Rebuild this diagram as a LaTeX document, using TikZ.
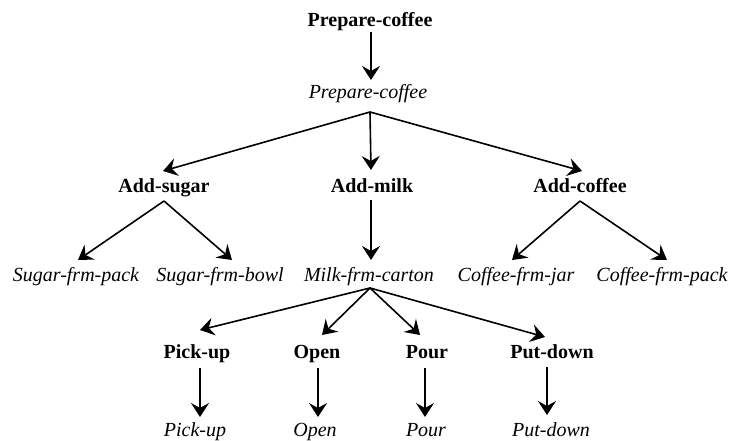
\documentclass[tikz,border=0pt]{standalone}
\usepackage{fontspec}
\setmainfont{Liberation Serif}
\usetikzlibrary{arrows.meta,calc}
\begin{document}
\begin{tikzpicture}[x=1pt,y=-1pt,
  lbl/.style={inner sep=0pt,anchor=base,font=\fontsize{20}{24}\selectfont},
  goal/.style={lbl,font=\fontsize{20}{24}\selectfont\bfseries},
  meth/.style={lbl,font=\fontsize{20}{24}\selectfont\itshape},
  arr/.style={line width=1.6pt,-{Stealth[length=14pt,width=18pt,inset=5pt]}}]
\useasboundingbox (0,0) rectangle (733,441);

% goals and methods
\node[goal] (pc)  at (370,27)  {Prepare-coffee};
\node[meth] (pci) at (368,99)  {Prepare-coffee};
\node[goal] (sugar)  at (164,192) {Add-sugar};
\node[goal] (milk)   at (372,192) {Add-milk};
\node[goal] (coffee) at (580,192) {Add-coffee};
\node[meth] (spack)   at (76,281)  {Sugar-frm-pack};
\node[meth] (sbowl)   at (220,281) {Sugar-frm-bowl};
\node[meth] (mcarton) at (369,281) {Milk-frm-carton};
\node[meth] (cjar)    at (516,281) {Coffee-frm-jar};
\node[meth] (cpack)   at (662,281) {Coffee-frm-pack};
\node[goal] (pick) at (197,358) {Pick-up};
\node[goal] (open) at (317,358) {Open};
\node[goal] (pour) at (427,358) {Pour};
\node[goal] (put)  at (552,358) {Put-down};
\node[meth] (picki) at (195,436) {Pick-up};
\node[meth] (openi) at (315,436) {Open};
\node[meth] (pouri) at (426,436) {Pour};
\node[meth] (puti)  at (551,436) {Put-down};

% branching points
\coordinate (j0) at ($(pci.base)+(2,13)$);
\coordinate (jS) at ($(sugar.base)+(0,9)$);
\coordinate (jC) at ($(coffee.base)+(0,9)$);
\coordinate (jM) at ($(mcarton.base)+(1,7)$);

% connectors
\draw[arr] ($(pc.base)+(1,5)$) -- ($(pci.base)+(3,-19)$);
\draw[arr] (j0) -- ($(sugar.base)+(-1,-21)$);
\draw[arr] (j0) -- ($(milk.base)+(-1,-22)$);
\draw[arr] (j0) -- ($(coffee.base)+(2,-21)$);

\draw[arr] (jS) -- ($(spack.base)+(2,-21)$);
\draw[arr] (jS) -- ($(sbowl.base)+(12,-21)$);
\draw[arr] ($(milk.base)+(-1,8)$) -- ($(mcarton.base)+(2,-21)$);
\draw[arr] (jC) -- ($(cjar.base)+(-4,-21)$);
\draw[arr] (jC) -- ($(cpack.base)+(5,-21)$);

\draw[arr] (jM) -- ($(pick.base)+(3,-28)$);
\draw[arr] (jM) -- ($(open.base)+(5,-23)$);
\draw[arr] (jM) -- ($(pour.base)+(-7,-23)$);
\draw[arr] (jM) -- ($(put.base)+(-7,-21)$);

\draw[arr] ($(pick.base)+(3,10)$) -- ($(picki.base)+(5,-19)$);
\draw[arr] ($(open.base)+(1,10)$) -- ($(openi.base)+(3,-19)$);
\draw[arr] ($(pour.base)+(-2,10)$) -- ($(pouri.base)+(-1,-19)$);
\draw[arr] ($(put.base)+(-5,9)$) -- ($(puti.base)+(-4,-21)$);
\end{tikzpicture}
\end{document}
